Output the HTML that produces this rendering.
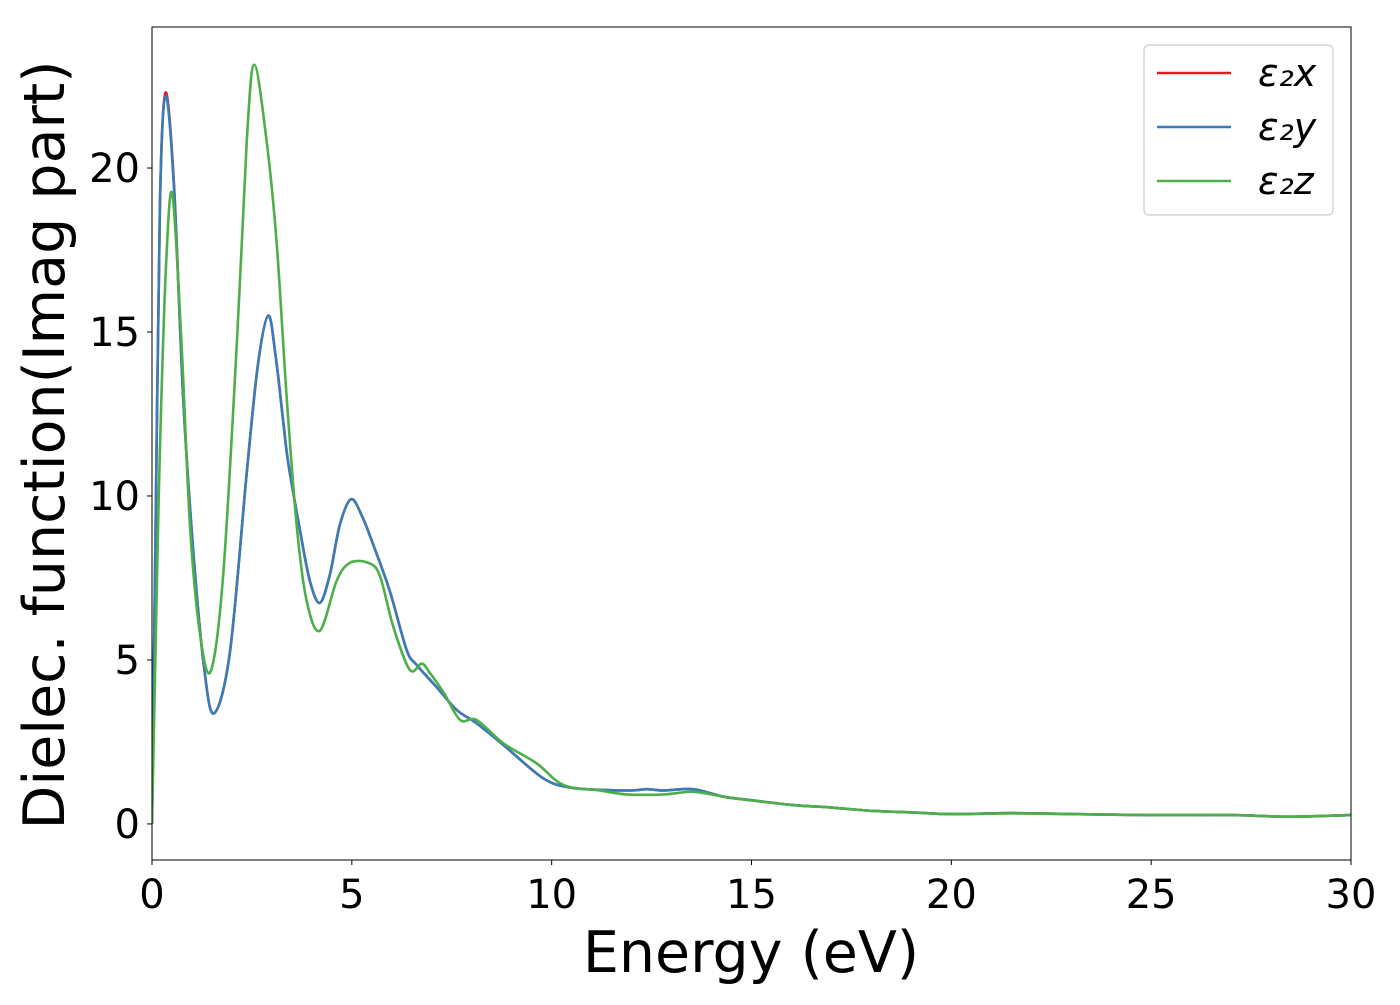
<!DOCTYPE html>
<html><head><meta charset="utf-8"><style>
body{margin:0;background:#fff;width:1400px;height:1000px;overflow:hidden}
svg text{font-family:"DejaVu Sans","Liberation Sans",sans-serif;fill:#000}
</style></head><body>
<svg id="chart" width="1400" height="1000" xmlns="http://www.w3.org/2000/svg">
<rect x="0" y="0" width="1400" height="1000" fill="#fff"/>
<g id="plot"></g>
<g id="axes"></g>
</svg>
<script>
const xTicks=[0,5,10,15,20,25,30];
const yTicks=[0,5,10,15,20];
const seriesNames=["ε₂x","ε₂y","ε₂z"];
const xEnergy=[0,0.1,0.2,0.34,0.55,0.78,1.03,1.3,1.55,1.95,2.37,2.65,2.91,3.1,3.29,3.41,3.7,3.95,4.2,4.45,4.7,4.98,5.25,5.54,5.95,6.37,6.62,7.1,7.62,8.12,8.79,9.79,10.46,11.2,12.0,12.38,12.8,13.54,14.3,14.96,16,17,18,19,20,21.5,23,25,27,28.5,30];
const yEps2x=[0,10,19,22.3,19.5,13.0,8.35,4.8,3.37,5.24,10.7,14.0,15.5,14.2,12.2,11.0,8.97,7.41,6.74,7.6,9.12,9.9,9.4,8.5,7.1,5.31,4.85,4.2,3.48,3.07,2.41,1.39,1.11,1.04,1.02,1.06,1.02,1.06,0.83,0.73,0.58,0.5,0.4,0.35,0.3,0.33,0.3,0.27,0.27,0.22,0.27];
const yEps2y=[0,10,19,22.2,19.4,13.0,8.35,4.8,3.37,5.24,10.7,14.0,15.5,14.2,12.2,11.0,8.97,7.41,6.74,7.6,9.12,9.9,9.4,8.5,7.1,5.31,4.85,4.2,3.48,3.07,2.41,1.39,1.11,1.04,1.02,1.06,1.02,1.06,0.83,0.73,0.58,0.5,0.4,0.35,0.3,0.33,0.3,0.27,0.27,0.22,0.27];
const xEnergyZ=[0,0.1,0.2,0.35,0.51,0.74,0.95,1.2,1.47,1.78,2.12,2.37,2.56,2.87,3.12,3.37,3.62,3.87,4.2,4.62,4.95,5.41,5.7,6.04,6.45,6.75,6.95,7.3,7.71,8.12,8.79,9.62,10.29,11.2,11.88,12.8,13.54,14.3,14.96,16,17,18,19,20,21.5,23,25,27,28.5,30];
const yEps2z=[0,6,11.5,17,19.2,14.6,9.1,5.8,4.66,7.57,14.6,20.8,23.15,20.8,17.7,13.0,9.1,6.8,5.89,7.41,7.96,7.96,7.57,6.0,4.7,4.89,4.61,4.0,3.17,3.17,2.46,1.85,1.19,1.02,0.9,0.9,0.98,0.83,0.72,0.58,0.5,0.4,0.35,0.3,0.32,0.3,0.27,0.27,0.22,0.27];

const L=152,R=1351,T=27,B=860;
const xMin=0,xMax=30,yMin=-1.1,yMax=24.3;
function sx(v){return L+(v-xMin)/(xMax-xMin)*(R-L);}
function sy(v){return B-(v-yMin)/(yMax-yMin)*(B-T);}
const NS="http://www.w3.org/2000/svg";
function mk(tag,attrs,parent){const e=document.createElementNS(NS,tag);for(const k in attrs)e.setAttribute(k,attrs[k]);parent.appendChild(e);return e;}
function smooth(xs,ys){
  const p=xs.map((x,i)=>[sx(x),sy(ys[i])]);
  let d="M"+p[0][0].toFixed(2)+","+p[0][1].toFixed(2);
  for(let i=0;i<p.length-1;i++){
    const p0=p[Math.max(0,i-1)],p1=p[i],p2=p[i+1],p3=p[Math.min(p.length-1,i+2)];
    const t=6;
    const c1=[p1[0]+(p2[0]-p0[0])/t,p1[1]+(p2[1]-p0[1])/t];
    const c2=[p2[0]-(p3[0]-p1[0])/t,p2[1]-(p3[1]-p1[1])/t];
    d+=" C"+c1[0].toFixed(2)+","+c1[1].toFixed(2)+" "+c2[0].toFixed(2)+","+c2[1].toFixed(2)+" "+p2[0].toFixed(2)+","+p2[1].toFixed(2);
  }
  return d;
}
const plot=document.getElementById('plot');
const axes=document.getElementById('axes');
mk('clipPath',{id:'clip'},plot).appendChild(document.createElementNS(NS,'rect'));
const cr=plot.querySelector('#clip rect');cr.setAttribute('x',L);cr.setAttribute('y',T);cr.setAttribute('width',R-L);cr.setAttribute('height',B-T);
const colors=["#e41a1c","#377eb8","#4daf4a"];
const sets=[[xEnergy,yEps2x],[xEnergy,yEps2y],[xEnergyZ,yEps2z]];
const lineNames=["line-eps2x","line-eps2y","line-eps2z"];
sets.forEach((s,i)=>{
  const pth=mk('path',{d:smooth(s[0],s[1]),fill:'none',stroke:colors[i],'stroke-width':2.6,'clip-path':'url(#clip)','stroke-linejoin':'round'},plot);
  
  
});
const frame=mk('rect',{x:L,y:T,width:R-L,height:B-T,fill:'none',stroke:'#000','stroke-width':1},axes);


xTicks.forEach(v=>{
  const tk=mk('line',{x1:sx(v),x2:sx(v),y1:B,y2:B+5,stroke:'#000'},axes);
  
  
  const t=mk('text',{x:sx(v),y:B+48,'font-size':40,'text-anchor':'middle'},axes);
  t.textContent=v;
  
  
});
yTicks.forEach(v=>{
  const tk=mk('line',{x1:L-5,x2:L,y1:sy(v),y2:sy(v),stroke:'#000'},axes);
  
  
  const t=mk('text',{x:L-12,y:sy(v)+14,'font-size':40,'text-anchor':'end'},axes);
  t.textContent=v;
  
  
});
const xl=mk('text',{x:751,y:972,'font-size':57,'text-anchor':'middle'},axes);
xl.textContent="Energy (eV)";


const yl=mk('text',{x:0,y:0,'font-size':57,'text-anchor':'middle',transform:'translate(64,445) rotate(-90)'},axes);
yl.textContent="Dielec. function(Imag part)";


const lg=mk('g',{},axes);


mk('rect',{x:1144,y:45,width:189,height:170,rx:5,fill:'#fff',stroke:'#ccc','stroke-width':1.2},lg);
seriesNames.forEach((n,i)=>{
  const y=73+i*54;
  const en=mk('g',{},lg);
  
  
  mk('line',{x1:1157,x2:1231,y1:y,y2:y,stroke:colors[i],'stroke-width':2.6},en);
  const t=mk('text',{x:1258,y:y+13,'font-size':38,'font-style':'italic'},en);
  t.textContent=n;
});
</script>
</body></html>
